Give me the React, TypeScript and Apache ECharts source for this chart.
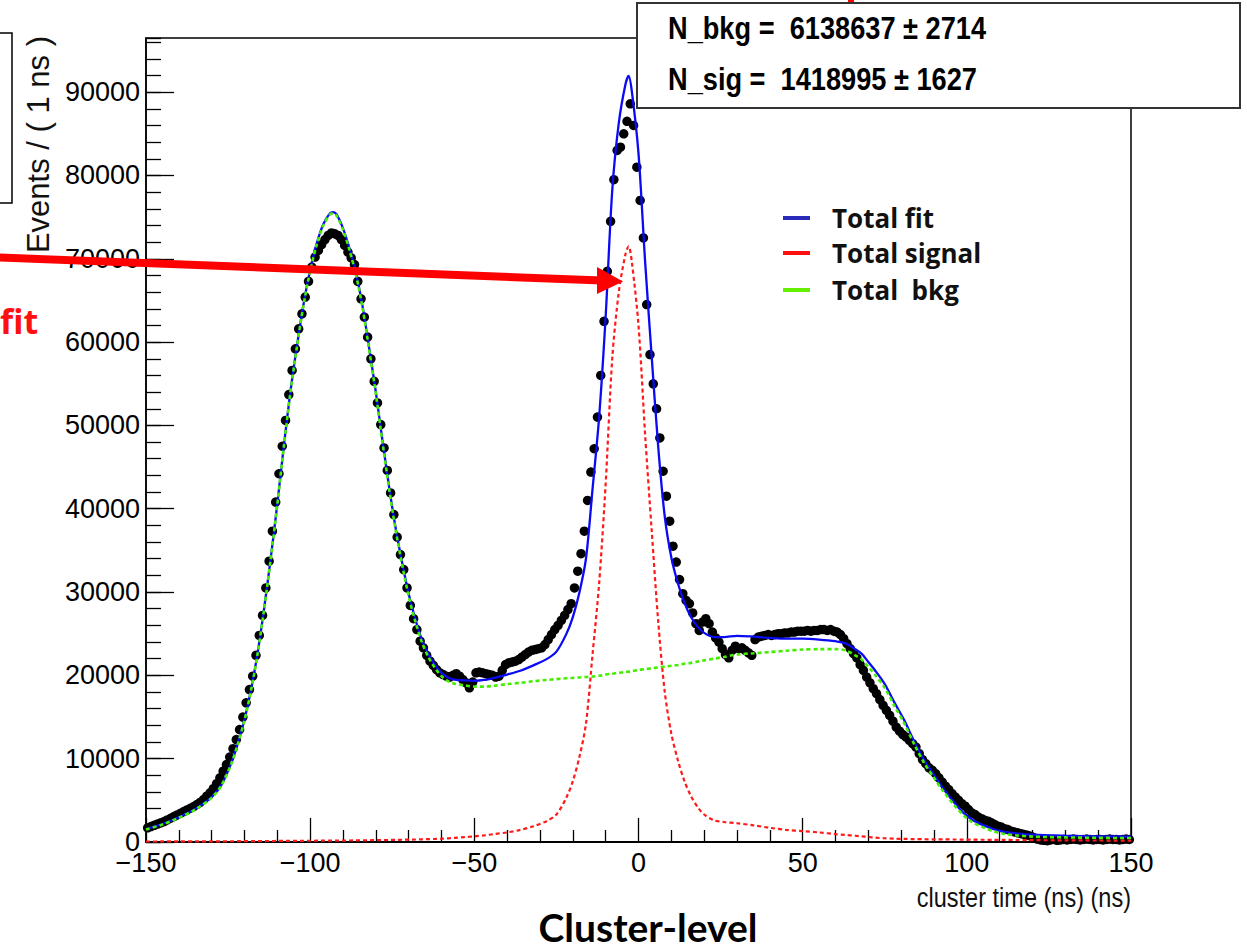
import React, { useEffect, useRef } from "react";
import * as echarts from "echarts";

// ---- histogram data: events per 1 ns bin, bins from -150 to 150 ns ----
const binLow = -150;
const binWidth = 1;
const counts = [
  1700, 1850, 2000, 2150, 2300, 2450, 2650, 2850, 3050, 3250,
  3450, 3650, 3850, 4050, 4250, 4500, 4750, 5100, 5500, 5900,
  6400, 7000, 7700, 8500, 9300, 10200, 11200, 12300, 13500, 15000,
  16700, 18300, 19900, 22400, 24800, 27200, 30500, 33700, 37300, 40800,
  44200, 47500, 50600, 53700, 56600, 59200, 61600, 63400, 65400, 67300,
  69000, 70200, 71000, 71700, 72300, 72800, 73100, 73000, 72800, 72300,
  71600, 70800, 70100, 69300, 67300, 65200, 63000, 60600, 58000, 55300,
  52700, 50100, 47300, 44600, 41900, 39300, 36600, 34500, 32700, 30500,
  28400, 26800, 25500, 24100, 23300, 22400, 21700, 21200, 20700, 20300,
  20100, 19900, 19800, 20000, 20200, 19900, 19500, 19100, 18500, 19200,
  20300, 20400, 20300, 20200, 20100, 20000, 19800, 19900, 20600, 21300,
  21500, 21600, 21700, 21900, 22200, 22500, 22800, 23000, 23100, 23200,
  23300, 23700, 24300, 24900, 25500, 26000, 26600, 27200, 27900, 28600,
  30500, 32500, 34600, 37300, 41000, 44400, 47200, 51000, 56000, 62500,
  68500, 74500, 79500, 83000, 83400, 85000, 86500, 88600, 86000, 81000,
  77000, 72500, 64500, 58500, 55000, 52000, 48500, 44500, 41500, 38500,
  35500, 33600, 31500, 29800, 29000, 28600, 27500, 26200, 25400, 26400,
  26800, 26200, 25200, 24500, 24000, 23200, 22500, 22100, 23000, 23500,
  23200, 23300, 23000, 22700, 22400, 24300, 24600, 24700, 24800, 24900,
  24800, 24900, 25000, 25000, 25100, 25100, 25200, 25200, 25300, 25300,
  25300, 25400, 25300, 25400, 25400, 25500, 25500, 25400, 25500, 25300,
  25200, 24900, 24400, 23800, 23200, 22600, 22100, 21300, 20600, 19800,
  19100, 18400, 17800, 17100, 16400, 15800, 15200, 14500, 13800, 13300,
  12900, 12600, 12200, 11800, 11400, 10600, 9900, 9400, 8900, 8600,
  8200, 7700, 7200, 6700, 6300, 5800, 5400, 5000, 4600, 4300,
  3900, 3500, 3300, 3000, 2800, 2600, 2500, 2300, 2100, 1900,
  1800, 1600, 1500, 1300, 1200, 1100, 1000, 900, 800, 700,
  500, 350, 250, 200, 150, 250, 300, 200, 250, 300,
  250, 300, 350, 300, 250, 300, 350, 300, 250, 300,
  300, 250, 300, 350, 300, 300, 250, 300, 350, 300,
];

// ---- fit curves sampled at these times (ns) ----
const curveX = [
  -150, -145, -140, -135, -130, -127, -124, -122, -120, -118, -116, -114, -112, -110, -108, -106,
  -104, -102, -100, -98, -96, -94, -93, -92, -90, -88, -86, -84, -82, -80, -78, -76, -74, -72,
  -70, -68, -66, -64, -62, -60, -58, -56, -53, -50, -47, -44, -40, -36, -32, -28, -25, -22, -20,
  -18, -16, -14, -12, -10, -8, -6, -4, -3, -2, 0, 2, 4, 6, 8, 10, 12, 14, 16, 18, 20, 23, 26, 30,
  35, 40, 45, 50, 55, 60, 63, 66, 68, 70, 72, 75, 78, 81, 84, 87, 90, 93, 96, 99, 102, 105, 108,
  111, 115, 120, 130, 140, 150,
];
const totalFit = [
  1560, 2165, 2970, 3975, 5380, 6885, 9490, 11895, 14700, 18300, 22700, 28100, 34100, 40600, 47600, 54100,
  59600, 64600, 68650, 71850, 74150, 75450, 75600, 75350, 73650, 71200, 68200, 64200, 59200, 54000, 48250, 42750, 37750, 33550,
  29800, 26800, 24300, 22550, 21250, 20300, 19750, 19500, 19400, 19350, 19450, 19700, 20100, 20550, 21200, 21950, 22850, 24950, 27000,
  29950, 34000, 42350, 50950, 63100, 78200, 86300, 90900, 91950, 90000, 82650, 69750, 58350, 47450, 39050, 34150, 31050, 28700, 27000, 25850, 25100, 24600, 24600, 24750,
  24650, 24500, 24400, 24400, 24300, 24100, 23850, 23150, 22580, 21600, 20620, 18950, 16700, 14570, 12050, 9830, 8020, 6310, 4800, 3490, 2580, 2020, 1560,
  1250, 1040, 870, 750, 680, 650,
];
const totalSignal = [
  60, 65, 70, 75, 80, 85, 90, 95, 100, 105, 110, 115, 120, 125, 130, 135,
  140, 145, 150, 155, 160, 165, 168, 170, 175, 180, 190, 200, 210, 220, 230, 240, 255, 270,
  285, 300, 320, 345, 370, 400, 440, 490, 580, 680, 800, 950, 1150, 1450, 1900, 2500, 3300, 5300, 7300,
  10200, 14200, 22500, 31000, 43000, 58000, 66000, 70500, 71500, 69500, 62000, 49000, 37500, 26500, 18000, 13000, 9800, 7300, 5500, 4200, 3300, 2600, 2400, 2250,
  2000, 1700, 1450, 1300, 1150, 950, 850, 750, 680, 600, 520, 450, 400, 370, 350, 330, 320, 310, 300, 290, 280, 270, 260,
  250, 240, 220, 200, 180, 170,
];
const totalBkg = [
  1500, 2100, 2900, 3900, 5300, 6800, 9400, 11800, 14600, 18200, 22600, 28000, 34000, 40500, 47500, 54000,
  59500, 64500, 68500, 71700, 74000, 75300, 75450, 75200, 73500, 71000, 68000, 64000, 59000, 53800, 48000, 42500, 37500, 33300,
  29500, 26500, 24000, 22200, 20900, 19900, 19300, 19000, 18800, 18650, 18650, 18750, 18950, 19100, 19300, 19450, 19550, 19650, 19700,
  19750, 19800, 19850, 19950, 20100, 20200, 20300, 20400, 20450, 20500, 20650, 20750, 20850, 20950, 21050, 21150, 21250, 21400, 21500, 21650, 21800, 22000, 22200, 22500,
  22650, 22800, 22950, 23100, 23150, 23150, 23000, 22400, 21900, 21000, 20100, 18500, 16300, 14200, 11700, 9500, 7700, 6000, 4500, 3200, 2300, 1750, 1300,
  1000, 800, 650, 550, 500, 480,
];

const legendNames = ["Total fit", "Total signal", "Total  bkg"];
const statsLines = ["N_bkg =  6138637 \u00b1 2714", "N_sig =  1418995 \u00b1 1627"];
const xTitle = "cluster time (ns) (ns)";
const yTitle = "Events / ( 1 ns )";
const slideTitle = "Cluster-level";

const HELV = "'Liberation Sans', Arial, sans-serif";

export default function App() {
  const ref = useRef<HTMLDivElement>(null);
  useEffect(() => {
    const chart = echarts.init(ref.current!, null, { renderer: "svg" });
    const pts = counts.map((v, i) => [binLow + binWidth * (i + 0.5), v]);
    const pair = (ys: number[]) => curveX.map((x, i) => [x, ys[i]]);
    const legendColors = ["#2a2ab8", "#ff1010", "#66ee00"];
    const legendY = [218, 253, 290];

    const option: any = {
      animation: false,
      backgroundColor: "#ffffff",
      grid: {
        left: 146, right: 116, top: 38, bottom: 107,
        show: true, borderColor: "#000", borderWidth: 1.5, backgroundColor: "transparent",
      },
      xAxis: {
        type: "value", min: -150, max: 150, interval: 50,
        axisLine: { show: true, onZero: false, lineStyle: { color: "#000", width: 2 } },
        axisTick: { show: true, inside: true, length: 24, lineStyle: { color: "#000", width: 1.3 } },
        minorTick: { show: true, splitNumber: 5, length: 12, lineStyle: { color: "#000", width: 1.3 } },
        splitLine: { show: false },
        axisLabel: {
          color: "#000", fontFamily: HELV, fontSize: 27, margin: 7,
          formatter: (v: number) => String(v).replace("-", "\u2212"),
        },
      },
      yAxis: [
        {
          type: "value", min: 0, max: 96500, interval: 10000, position: "left",
          axisLine: { show: true, onZero: false, lineStyle: { color: "#000", width: 1.5 } },
          axisTick: { show: true, inside: true, length: 28, lineStyle: { color: "#000", width: 1.3 } },
          splitLine: { show: false },
          axisLabel: {
            color: "#000", fontFamily: HELV, fontSize: 27, margin: 6, showMaxLabel: false,
            formatter: (v: number) => String(v),
          },
        },
        {
          type: "value", min: 0, max: 96500, interval: 2000, position: "left",
          axisLine: { show: false, onZero: false },
          axisTick: { show: true, inside: true, length: 15, lineStyle: { color: "#000", width: 1.3 } },
          splitLine: { show: false },
          axisLabel: { show: false },
        },
      ],
      series: [
        {
          name: "data", type: "scatter", data: pts, symbol: "circle", symbolSize: 9.5,
          itemStyle: { color: "#000", opacity: 1 }, z: 2, silent: true,
        },
        {
          name: legendNames[0], type: "line", data: pair(totalFit), showSymbol: false, smooth: 0.3,
          lineStyle: { color: "#0a0af5", width: 2.3 }, z: 3, silent: true,
        },
        {
          name: legendNames[1], type: "line", data: pair(totalSignal), showSymbol: false, smooth: 0.3,
          lineStyle: { color: "#ff1a1a", width: 2.2, type: [4, 3] }, z: 4, silent: true,
        },
        {
          name: legendNames[2], type: "line", data: pair(totalBkg), showSymbol: false, smooth: 0.3,
          lineStyle: { color: "#44ee00", width: 2.6, type: [4, 3] }, z: 5, silent: true,
        },
      ],
      graphic: [
        { type: "rect", z: 50, shape: { x: -6, y: 33, width: 18, height: 170 }, style: { fill: "none", stroke: "#000", lineWidth: 1.5 } },
        {
          type: "text", z: 50, x: 38, y: 36, rotation: Math.PI / 2,
          style: { text: yTitle, font: `31px ${HELV}`, fill: "#111", textAlign: "right", textVerticalAlign: "middle" },
        },
        { type: "line", z: 60, shape: { x1: -2, y1: 257.5, x2: 602, y2: 280.5 }, style: { stroke: "#ff0000", lineWidth: 8 } },
        { type: "polygon", z: 60, shape: { points: [[597, 267], [623, 281.5], [597, 294]] }, style: { fill: "#ff0000" } },
        {
          type: "text", z: 60, x: 0, y: 321,
          style: { text: "fit", font: "bold 34px 'Open Sans', sans-serif", fill: "#ff1010", textAlign: "left", textVerticalAlign: "middle" },
        },
        { type: "rect", z: 70, shape: { x: 637, y: 3, width: 603, height: 105 }, style: { fill: "#fff", stroke: "#333", lineWidth: 2 } },
        ...statsLines.map((t, i) => ({
          type: "text", z: 71, x: 668, y: i === 0 ? 28 : 79, scaleX: 0.85,
          style: { text: t, font: `bold 32px ${HELV}`, fill: "#000", textAlign: "left", textVerticalAlign: "middle" },
        })),
        ...legendNames.map((t, i) => ({
          type: "rect", z: 60, shape: { x: 783, y: legendY[i] - 2, width: 27, height: 4 }, style: { fill: legendColors[i] },
        })),
        ...legendNames.map((t, i) => ({
          type: "text", z: 60, x: 832, y: legendY[i],
          style: { text: t, font: "bold 26px 'Open Sans', sans-serif", fill: "#111", textAlign: "left", textVerticalAlign: "middle" },
        })),
        {
          type: "text", z: 50, x: 1131, y: 897, scaleX: 0.84,
          style: { text: xTitle, font: `28px ${HELV}`, fill: "#111", textAlign: "right", textVerticalAlign: "middle" },
        },
        {
          type: "text", z: 50, x: 648, y: 927,
          style: { text: slideTitle, font: "bold 39px Lato, sans-serif", fill: "#000", textAlign: "center", textVerticalAlign: "middle" },
        },
        { type: "rect", z: 50, shape: { x: 848, y: 0, width: 6, height: 3 }, style: { fill: "#ff0000" } },
      ],
    };
    chart.setOption(option);
    return () => chart.dispose();
  }, []);
  return <div ref={ref} style={{ position: "absolute", left: 0, top: 0, width: 1247, height: 949 }} />;
}
